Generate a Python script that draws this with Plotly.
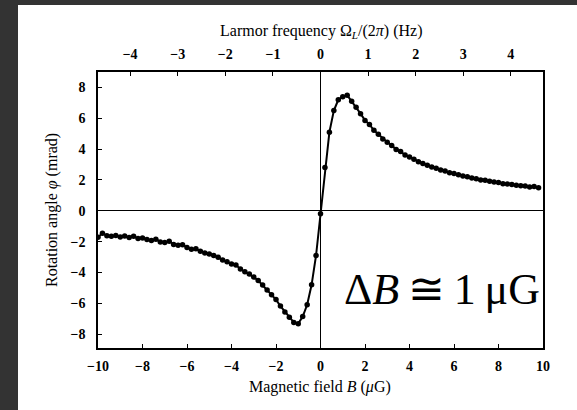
import plotly.graph_objects as go

# Magnetic field scan (uG) and measured optical rotation angle (mrad)
field_uG = [
    -10.0, -9.8, -9.6, -9.4, -9.2, -9.0, -8.8, -8.6, -8.4, -8.2,
    -8.0, -7.8, -7.6, -7.4, -7.2, -7.0, -6.8, -6.6, -6.4, -6.2,
    -6.0, -5.8, -5.6, -5.4, -5.2, -5.0, -4.8, -4.6, -4.4, -4.2,
    -4.0, -3.8, -3.6, -3.4, -3.2, -3.0, -2.8, -2.6, -2.4, -2.2,
    -2.0, -1.8, -1.6, -1.4, -1.2, -1.0, -0.8, -0.6, -0.4, -0.2,
    0.0, 0.2, 0.4, 0.6, 0.8, 1.0, 1.2, 1.4, 1.6, 1.8,
    2.0, 2.2, 2.4, 2.6, 2.8, 3.0, 3.2, 3.4, 3.6, 3.8,
    4.0, 4.2, 4.4, 4.6, 4.8, 5.0, 5.2, 5.4, 5.6, 5.8,
    6.0, 6.2, 6.4, 6.6, 6.8, 7.0, 7.2, 7.4, 7.6, 7.8,
    8.0, 8.2, 8.4, 8.6, 8.8, 9.0, 9.2, 9.4, 9.6, 9.8,
]
rotation_mrad = [
    -1.72, -1.45, -1.62, -1.66, -1.60, -1.70, -1.64, -1.74, -1.66, -1.80,
    -1.76, -1.86, -1.92, -1.84, -2.02, -2.06, -1.98, -2.18, -2.24, -2.20,
    -2.38, -2.50, -2.46, -2.62, -2.74, -2.80, -2.90, -3.02, -3.20, -3.30,
    -3.46, -3.52, -3.78, -3.96, -4.10, -4.30, -4.52, -4.82, -5.14, -5.44,
    -5.76, -6.18, -6.56, -6.90, -7.24, -7.32, -6.86, -6.10, -4.80, -2.90,
    -0.20, 2.80, 5.10, 6.50, 7.20, 7.40, 7.50, 7.10, 6.72, 6.30,
    5.86, 5.60, 5.22, 4.96, 4.66, 4.44, 4.24, 3.98, 3.84, 3.62,
    3.48, 3.34, 3.18, 3.06, 2.96, 2.84, 2.76, 2.64, 2.58, 2.46,
    2.42, 2.34, 2.26, 2.20, 2.12, 2.08, 2.00, 1.98, 1.92, 1.86,
    1.84, 1.76, 1.74, 1.70, 1.66, 1.62, 1.60, 1.54, 1.58, 1.50,
]

field_ticks = [-10, -8, -6, -4, -2, 0, 2, 4, 6, 8, 10]
field_ticktext = ["\u221210", "\u22128", "\u22126", "\u22124", "\u22122", "0", "2", "4", "6", "8", "10"]
angle_ticks = [-8, -6, -4, -2, 0, 2, 4, 6, 8]
angle_ticktext = ["\u22128", "\u22126", "\u22124", "\u22122", "0", "2", "4", "6", "8"]
larmor_ticks = [-4, -3, -2, -1, 0, 1, 2, 3, 4]
larmor_ticktext = ["\u22124", "\u22123", "\u22122", "\u22121", "0", "1", "2", "3", "4"]

HZ_PER_UG = 0.4675  # Larmor frequency per unit field
FIELD_RANGE = [-10, 10]
ANGLE_RANGE = [-8.9, 9.0]

SERIF = "Liberation Serif"
DARK = "#333333"
tick_font = dict(family=SERIF, size=14, color="black", weight="bold")

fig = go.Figure()
fig.add_trace(go.Scatter(
    x=field_uG, y=rotation_mrad, mode="lines+markers",
    line=dict(color="black", width=2),
    marker=dict(color="black", size=5.5),
    showlegend=False, hoverinfo="skip",
))
# invisible trace to carry the top (frequency) axis
fig.add_trace(go.Scatter(
    x=[FIELD_RANGE[0] * HZ_PER_UG, FIELD_RANGE[1] * HZ_PER_UG], y=[0, 0],
    xaxis="x2", mode="markers", marker=dict(opacity=0),
    showlegend=False, hoverinfo="skip",
))

L, R, T, B = 98, 34, 72, 62
W, H = 577, 410
pw, ph = W - L - R, H - T - B


def px(xp):
    return (xp - L) / pw


def py(yp):
    return (H - B - yp) / ph


fig.update_layout(
    width=W, height=H,
    margin=dict(l=L, r=R, t=T, b=B),
    paper_bgcolor="white",
    plot_bgcolor="white",
    xaxis=dict(
        range=FIELD_RANGE, tickvals=field_ticks, ticktext=field_ticktext,
        ticks="inside", ticklen=4, tickwidth=1, tickcolor="black",
        showline=True, linecolor="black", linewidth=1.5, mirror=True,
        showgrid=False, zeroline=True, zerolinecolor="black", zerolinewidth=1,
        tickfont=tick_font, ticklabelstandoff=4,
    ),
    xaxis2=dict(
        overlaying="x", side="top",
        range=[FIELD_RANGE[0] * HZ_PER_UG, FIELD_RANGE[1] * HZ_PER_UG],
        tickvals=larmor_ticks, ticktext=larmor_ticktext,
        ticks="inside", ticklen=4, tickwidth=1, tickcolor="black",
        showline=False, showgrid=False, zeroline=False,
        tickfont=tick_font, ticklabelstandoff=9,
    ),
    yaxis=dict(
        range=ANGLE_RANGE, tickvals=angle_ticks, ticktext=angle_ticktext,
        ticks="inside", ticklen=4, tickwidth=1, tickcolor="black",
        showline=True, linecolor="black", linewidth=1.5, mirror=True,
        showgrid=False, zeroline=True, zerolinecolor="black", zerolinewidth=1,
        tickfont=tick_font, ticklabelstandoff=8,
    ),
    shapes=[
        # dark page border on the left and top
        dict(type="rect", xref="paper", yref="paper", layer="below",
             x0=px(0), x1=px(18), y0=py(0), y1=py(H),
             fillcolor=DARK, line=dict(width=0)),
        dict(type="rect", xref="paper", yref="paper", layer="below",
             x0=px(0), x1=px(W), y0=py(0), y1=py(5),
             fillcolor=DARK, line=dict(width=0)),
    ],
    annotations=[
        dict(text="Larmor frequency \u03a9<sub><i>L</i></sub>/(2<i>\u03c0</i>) (Hz)",
             xref="paper", yref="paper", x=px(321), y=py(31),
             xanchor="center", yanchor="middle", showarrow=False,
             font=dict(family=SERIF, size=16, color="black")),
        dict(text="Magnetic field <i>B</i> (<i>\u03bc</i>G)",
             xref="paper", yref="paper", x=px(320), y=py(387),
             xanchor="center", yanchor="middle", showarrow=False,
             font=dict(family=SERIF, size=16, color="black")),
        dict(text="Rotation angle <i>\u03c6</i> (mrad)",
             xref="paper", yref="paper", x=px(52), y=py(210),
             xanchor="center", yanchor="middle", textangle=-90, showarrow=False,
             font=dict(family=SERIF, size=16, color="black")),
        dict(text="\u0394<i>B</i>\u2009\u2245\u20091\u2009\u03bcG",
             xref="paper", yref="paper", x=px(442), y=py(289),
             xanchor="center", yanchor="middle", showarrow=False,
             font=dict(family=SERIF, size=44, color="black")),
    ],
)

# page styling: no margins, no scrollbars
page_css = (
    "var s=document.createElement('style');"
    "s.textContent='html,body{margin:0;padding:0;overflow:hidden;"
    "scrollbar-width:none;}::-webkit-scrollbar{display:none;width:0;height:0;}';"
    "document.head.appendChild(s);"
)
fig.write_html("out.html", config={"displayModeBar": False}, post_script=page_css)
